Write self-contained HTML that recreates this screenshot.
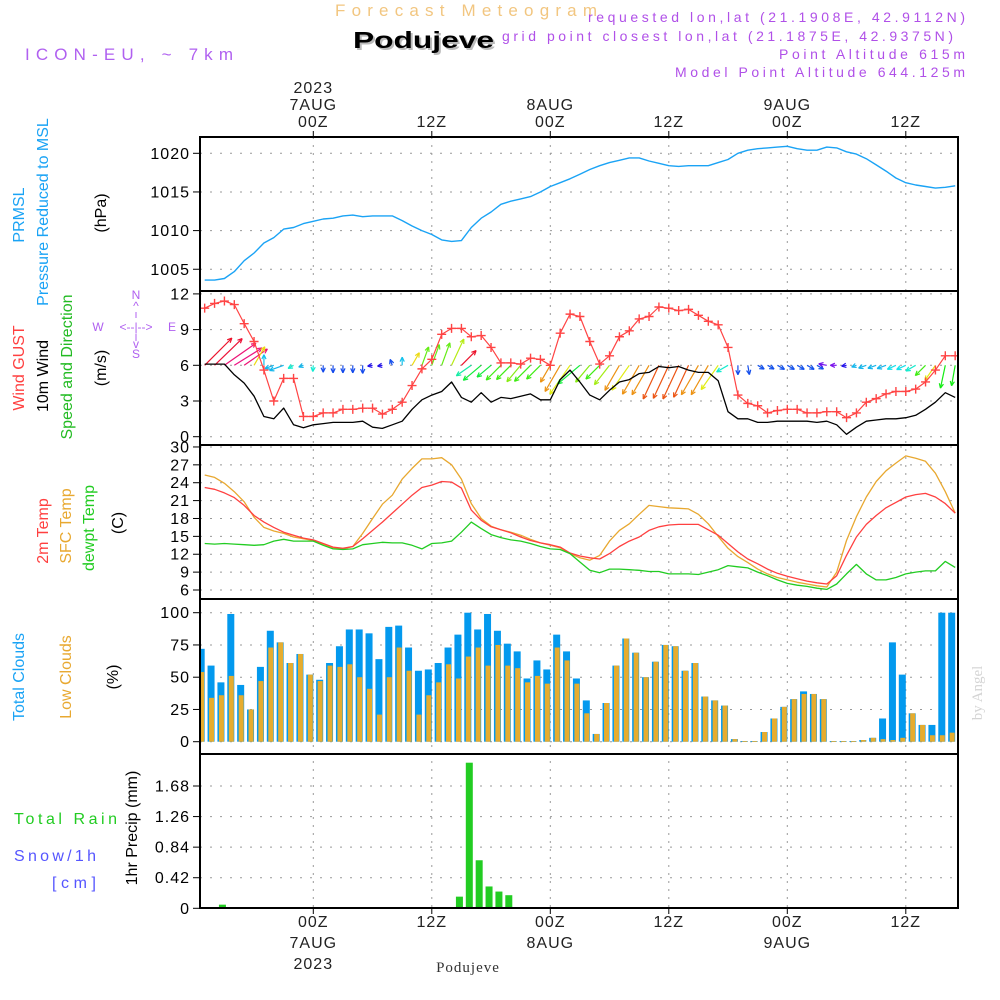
<!DOCTYPE html>
<html><head><meta charset="utf-8"><title>Podujeve Meteogram</title>
<style>
html,body{margin:0;padding:0;background:#fff;}
svg{display:block;font-family:"Liberation Sans",sans-serif;}
</style></head>
<body>
<svg id="chart" width="1000" height="1000" viewBox="0 0 1000 1000" xmlns="http://www.w3.org/2000/svg">
  <rect x="0" y="0" width="1000" height="1000" fill="#fff"/>
  <text x="335" y="16" font-size="17" fill="#f2c680" textLength="262" lengthAdjust="spacing">Forecast Meteogram</text>
  <text x="355" y="50" font-size="23" font-weight="bold" fill="#bbb" textLength="141" lengthAdjust="spacingAndGlyphs">Podujeve</text>
  <text x="353" y="48" font-size="23" font-weight="bold" fill="#000" textLength="141" lengthAdjust="spacingAndGlyphs">Podujeve</text>
  <text x="25" y="60" font-size="17" fill="#b060f0" textLength="208" lengthAdjust="spacing">ICON-EU, ~ 7km</text>
  <g fill="#b050e8" font-size="14" text-anchor="end">
    <text x="965" y="22" textLength="377" lengthAdjust="spacing">requested lon,lat (21.1908E, 42.9112N)</text>
    <text x="953" y="41" textLength="451" lengthAdjust="spacing">grid point closest lon,lat (21.1875E, 42.9375N)</text>
    <text x="965" y="59" textLength="186" lengthAdjust="spacing">Point Altitude 615m</text>
    <text x="965" y="77" textLength="290" lengthAdjust="spacing">Model Point Altitude 644.125m</text>
  </g>
  <g id="grid"></g>
  <g id="marks"></g>
  <g id="frames"></g>
  <g id="labels"></g>
</svg>
<script>
// ---- time axis (hours relative to 7AUG 00Z) ----
const hours = [];
for (let h = -11; h <= 65; h++) hours.push(h);

const pressure = [1003.6,1003.6,1003.8,1004.7,1006.1,1007.1,1008.4,1009.1,1010.2,1010.4,1010.9,
1011.2,1011.5,1011.6,1011.9,1012.0,1011.8,1011.9,1011.9,1011.9,1011.3,1010.6,
1010.0,1009.5,1008.8,1008.6,1008.7,1010.4,1011.6,1012.4,1013.4,1013.8,
1014.1,1014.4,1015.0,1015.7,1016.2,1016.7,1017.3,1017.9,1018.4,1018.8,
1019.1,1019.4,1019.4,1019.0,1018.7,1018.4,1018.3,1018.4,1018.4,1018.4,
1018.8,1019.2,1020.0,1020.4,1020.6,1020.7,1020.8,1020.9,1020.6,1020.4,
1020.4,1020.8,1020.7,1020.2,1019.9,1019.3,1018.5,1017.7,1016.8,1016.2,
1015.9,1015.7,1015.5,1015.6,1015.8];

const gust = [10.8,11.2,11.4,11.1,9.5,8.0,5.6,3.0,4.9,4.9,1.7,
1.7,2.0,2.0,2.3,2.3,2.4,2.4,1.9,2.3,2.9,4.3,
5.7,6.5,8.6,9.1,9.1,8.4,8.5,7.5,6.2,6.2,
6.1,6.6,6.5,6.0,8.7,10.3,10.1,8.0,6.1,6.8,
8.4,8.9,9.9,10.1,10.9,10.8,10.6,10.7,10.2,9.7,
9.4,7.5,3.5,2.8,2.6,2.0,2.2,2.3,2.3,2.0,
2.0,2.1,2.1,1.6,2.0,2.9,3.2,3.6,3.8,3.8,
4.0,4.6,5.6,6.8,6.8];

const windSpeed = [6.1,6.1,6.1,5.2,4.5,3.4,1.7,1.5,2.4,1.0,0.75,
1.0,1.1,1.2,1.2,1.2,1.3,0.8,0.7,1.0,1.3,2.3,
3.1,3.5,3.8,4.6,3.3,2.9,3.7,2.9,3.3,3.2,
3.4,3.6,3.1,3.1,4.8,5.6,4.6,3.5,3.1,3.9,
4.6,4.8,5.3,5.4,5.9,5.8,5.9,5.6,5.4,5.4,
4.7,2.1,1.5,1.5,1.2,1.2,1.3,1.3,1.3,1.3,
1.2,1.3,1.0,0.2,0.8,1.3,1.4,1.5,1.5,1.6,
1.8,2.3,2.9,3.7,3.3];

// direction the wind blows TOWARD, degrees counter-clockwise from east
const windToDir = [45,44,35,32,35,60,90,200,200,210,200,
265,270,270,270,270,270,190,190,110,90,60,
70,70,70,65,45,215,220,220,225,225,
230,225,225,240,240,235,220,230,225,232,
240,235,240,240,245,245,245,245,240,240,
235,210,270,280,330,330,330,330,330,330,
330,170,180,190,200,200,200,200,205,205,
210,225,235,258,260];

const temp2m = [23.2,22.9,22.3,21.5,20.2,18.5,17.4,16.5,15.7,15.2,14.7,
14.4,13.8,13.2,13.0,13.3,14.6,16.0,17.4,18.9,20.4,21.9,
23.2,23.6,24.2,24.1,23.1,19.4,17.7,16.6,16.1,15.6,
14.9,14.3,13.9,13.6,13.2,12.2,11.7,11.4,11.2,12.1,
13.3,14.2,14.9,16.0,16.6,16.9,17.0,17.0,17.0,16.1,
15.2,13.8,12.4,11.2,10.4,9.5,8.8,8.3,7.9,7.5,
7.2,7.0,8.4,11.8,14.9,17.0,18.5,19.8,20.7,21.6,
22.0,22.2,21.6,20.5,18.9];

const tempSfc = [25.3,24.9,23.9,22.5,20.8,18.2,16.5,15.9,15.5,14.9,14.6,
14.3,13.7,13.1,12.9,13.3,15.5,18.0,20.4,21.9,24.6,26.4,
28.0,28.0,28.2,27.0,24.6,20.5,18.0,16.7,16.1,15.7,
15.2,14.5,13.9,13.5,13.1,12.1,11.4,11.0,11.8,14.2,
16.0,17.1,18.7,20.2,20.0,19.8,19.7,19.6,18.7,17.1,
15.0,13.0,11.6,10.6,9.5,8.7,8.1,7.7,7.3,7.0,
6.7,6.5,9.0,14.3,18.3,21.6,24.2,26.0,27.3,28.5,
28.1,27.6,25.6,22.5,18.9];

const dewpoint = [13.8,13.7,13.8,13.7,13.6,13.5,13.6,14.2,14.5,14.2,14.2,
14.2,13.5,12.9,12.8,12.9,13.6,13.8,14.0,13.9,13.9,13.5,
12.9,13.8,13.9,14.2,15.7,17.4,16.3,15.3,14.8,14.4,
14.2,13.8,13.3,12.9,12.8,12.1,10.7,9.3,8.9,9.5,
9.5,9.4,9.3,9.1,9.1,8.7,8.7,8.7,8.6,9.0,
9.4,10.1,9.9,9.7,9.0,8.4,7.7,7.1,6.8,6.6,
6.3,6.1,7.0,8.7,10.3,8.7,7.7,7.7,8.1,8.7,
9.0,9.2,9.2,10.8,9.8];

const totalClouds = [72,59,46,99,44,25,58,86,77,61,68,
52,48,61,74,87,87,84,64,89,90,73,
55,56,61,73,83,100,87,99,86,76,
70,49,63,56,83,70,49,32,6,30,
59,80,69,50,62,75,74,55,61,35,
32,28,2,0.5,0.5,7.5,18,27,33,39,
37,33,0.5,0.5,0.5,1.3,3,18,77,52,
22,13,13,100,100];

const lowClouds = [54,34,36,51,36,25,47,73,77,61,68,
52,47,59,58,60,50,41,21,50,73,55,
21,36,46,60,49,66,73,59,75,59,
57,46,51,45,73,63,45,22,6,30,
59,80,69,50,62,75,74,55,61,35,
32,28,2,0.5,0.5,7.5,18,27,33,37,
37,33,0.5,0.5,0.5,1.3,3,2,1.3,3,
22,13,5,5,7];

const precip = [0,0,0.05,0,0,0,0,0,0,0,0,
0,0,0,0,0,0,0,0,0,0,0,
0,0,0,0,0.16,2.0,0.66,0.30,0.23,0.18,
0,0,0,0,0,0.01,0,0,0,0,
0,0,0,0,0,0,0,0,0,0,
0,0,0,0,0,0,0,0,0,0,
0,0,0,0,0,0,0,0,0,0,
0,0,0,0,0];

const pressureTicks = [1005,1010,1015,1020];
const windTicks = [0,3,6,9,12];
const tempTicks = [6,9,12,15,18,21,24,27,30];
const cloudTicks = [0,25,50,75,100];
const precipTicks = [0,0.42,0.84,1.26,1.68];
const timeTicks = [0,12,24,36,48,60];
const topTimeLabels = [["2023","7AUG","00Z"],["","","12Z"],["","8AUG","00Z"],["","","12Z"],["","9AUG","00Z"],["","","12Z"]];
const bottomTimeLabels = [["00Z","7AUG","2023"],["12Z","",""],["00Z","8AUG",""],["12Z","",""],["00Z","9AUG",""],["12Z","",""]];

// ---- scales ----
const L = 200, R = 958;
const X = h => 313.3 + 9.875 * h;
const yP = v => 153.3 + (1020 - v) * 7.73;
const yW = v => 436.7 - v * 11.9;
const yT = v => 590 - (v - 6) * 5.96;
const yC = v => 741.7 - v * 1.29;
const yR = v => 908.3 - v * 72.8;
const panels = [[137,291],[291,445],[445,599],[599,754],[754,908]];

const NS = "http://www.w3.org/2000/svg";
function mk(tag, attrs, parent) {
  const e = document.createElementNS(NS, tag);
  for (const k in attrs) e.setAttribute(k, attrs[k]);
  if (parent) parent.appendChild(e);
  return e;
}
const svg = document.getElementById('chart');
const gGrid = document.getElementById('grid');
const gMarks = document.getElementById('marks');
const gFrames = document.getElementById('frames');
const gLabels = document.getElementById('labels');

const defs = mk('defs', {}, svg);
panels.forEach((p, i) => {
  const cp = mk('clipPath', {id: 'clip' + i}, defs);
  mk('rect', {x: L, y: p[0], width: R - L, height: p[1] - p[0]}, cp);
});

function hgrid(ticks, yf, name) {
  ticks.forEach(t => {
    const ln = mk('line', {x1: L, x2: R, y1: yf(t), y2: yf(t), stroke: '#999', 'stroke-width': 1, 'stroke-dasharray': '2,8'}, gGrid);
    
    
  });
}
hgrid(pressureTicks, yP, 'pressure');
hgrid(windTicks, yW, 'wind');
hgrid(tempTicks, yT, 'temp');
hgrid(cloudTicks, yC, 'cloud');
hgrid(precipTicks, yR, 'precip');
timeTicks.forEach(t => {
  const ln = mk('line', {x1: X(t), x2: X(t), y1: 137, y2: 908, stroke: '#999', 'stroke-width': 1, 'stroke-dasharray': '2,6'}, gGrid);
  
  
});

function polyline(vals, yf, color, clip, name, w) {
  const pts = vals.map((v, i) => X(hours[i]).toFixed(1) + ',' + yf(v).toFixed(1)).join(' ');
  const pl = mk('polyline', {points: pts, fill: 'none', stroke: color, 'stroke-width': w || 1.3, 'clip-path': 'url(#clip' + clip + ')', 'stroke-linejoin': 'round'}, gMarks);
  
  
}

polyline(pressure, yP, '#1aa3f5', 0, 'pressure-line', 1.4);

function hsl2(h, s, l) { return 'hsl(' + h + ',' + s + '%,' + l + '%)'; }
const dirStops = [[0,225],[25,320],[40,340],[48,0],[55,35],[65,75],[75,120],[85,180],[100,215],[150,260],[185,270],[200,195],[215,160],[222,120],[232,80],[240,35],[250,0],[254,120],[262,120],[268,225],[275,225],[300,220],[360,225]];
function dirColor(a) {
  a = ((a % 360) + 360) % 360;
  for (let i = 0; i < dirStops.length - 1; i++) {
    const s0 = dirStops[i], s1 = dirStops[i + 1];
    if (a >= s0[0] && a <= s1[0]) {
      const f = (a - s0[0]) / (s1[0] - s0[0] || 1);
      let h0 = s0[1], h1 = s1[1];
      if (Math.abs(h1 - h0) > 180) { if (h1 > h0) h0 += 360; else h1 += 360; }
      return hsl2(((h0 + (h1 - h0) * f) % 360).toFixed(0), 85, 50);
    }
  }
  return '#2060ff';
}
const gArrows = mk('g', {'clip-path': 'url(#clip1)'}, gMarks);


windToDir.forEach((d, i) => {
  const x0 = X(hours[i]), y0 = yW(6);
  const len = Math.max(windSpeed[i] * 6.3, 5);
  const rad = d * Math.PI / 180;
  const x1 = x0 + len * Math.cos(rad), y1 = y0 - len * Math.sin(rad);
  const col = dirColor(d);
  const g = mk('g', {stroke: col, 'stroke-width': 1.2, fill: 'none'}, gArrows);
  
  
  mk('line', {x1: x0, y1: y0, x2: x1, y2: y1}, g);
  const hl = 5;
  [25, -25].forEach(o => {
    const r2 = (d + 180 + o) * Math.PI / 180;
    mk('line', {x1: x1, y1: y1, x2: x1 + hl * Math.cos(r2), y2: y1 - hl * Math.sin(r2)}, g);
  });
});

polyline(windSpeed, yW, '#000', 1, 'wind-speed-line', 1.3);
polyline(gust, yW, '#ff4444', 1, 'wind-gust-line', 1.2);
const gGust = mk('g', {stroke: '#ff4444', 'stroke-width': 1.4, 'clip-path': 'url(#clip1)'}, gMarks);


gust.forEach((v, i) => {
  const x = X(hours[i]), y = yW(v);
  const p = mk('path', {d: 'M' + (x - 4.5) + ' ' + y + 'h9M' + x + ' ' + (y - 4.5) + 'v9'}, gGust);
  
  
});

polyline(tempSfc, yT, '#e8a830', 2, 'sfc-temp-line', 1.3);
polyline(temp2m, yT, '#ff4040', 2, 'temp-2m-line', 1.3);
polyline(dewpoint, yT, '#22cc22', 2, 'dewpoint-line', 1.3);

const gClouds = mk('g', {'clip-path': 'url(#clip3)'}, gMarks);


totalClouds.forEach((v, i) => {
  const x = X(hours[i]);
  const b = mk('rect', {x: x - 7, y: yC(v), width: 7, height: Math.max(yC(0) - yC(v), 0.8), fill: '#0399ee'}, gClouds);
  
  
  const lv = lowClouds[i];
  const o = mk('rect', {x: x - 5.5, y: yC(lv), width: 5, height: Math.max(yC(0) - yC(lv), 0.8), fill: '#e6ac2e'}, gClouds);
  
  
});

const gPrecip = mk('g', {'clip-path': 'url(#clip4)'}, gMarks);


precip.forEach((v, i) => {
  if (v <= 0) return;
  const x = X(hours[i]);
  const b = mk('rect', {x: x - 5.5, y: yR(v), width: 7, height: Math.max(yR(0) - yR(v), 1), fill: '#22cc22'}, gPrecip);
  
  
});
const zl = mk('line', {x1: L, x2: R, y1: yR(0) - 0.5, y2: yR(0) - 0.5, stroke: '#2a2', 'stroke-width': 1, 'stroke-dasharray': '8,2'}, gMarks);



panels.forEach((p, i) => {
  const r = mk('rect', {x: L, y: p[0], width: R - L, height: p[1] - p[0], fill: 'none', stroke: '#000', 'stroke-width': 2}, gFrames);
  
  
});
timeTicks.forEach(t => {
  mk('line', {x1: X(t), x2: X(t), y1: 131, y2: 137, stroke: '#000', 'stroke-width': 1}, gFrames);
  mk('line', {x1: X(t), x2: X(t), y1: 908, y2: 914, stroke: '#000', 'stroke-width': 1}, gFrames);
});

function yLabels(ticks, yf, name, fmt) {
  ticks.forEach(t => {
    const y = yf(t);
    mk('line', {x1: 193, x2: 200, y1: y, y2: y, stroke: '#000', 'stroke-width': 1}, gLabels);
    const tx = mk('text', {x: 190, y: y + 5.5, 'font-size': 16, 'text-anchor': 'end', fill: '#000', 'letter-spacing': 1}, gLabels);
    tx.textContent = fmt ? fmt(t) : String(t);
    
    
  });
}
yLabels(pressureTicks, yP, 'pressure');
yLabels(windTicks, yW, 'wind');
yLabels(tempTicks, yT, 'temp');
yLabels(cloudTicks, yC, 'cloud');
yLabels(precipTicks, yR, 'precip', t => t === 0 ? '0' : t.toFixed(2));

timeTicks.forEach((t, i) => {
  const rows = topTimeLabels[i];
  [93, 110, 127].forEach((yy, j) => {
    if (!rows[j]) return;
    const tx = mk('text', {x: X(t), y: yy, 'font-size': 16, 'text-anchor': 'middle', fill: '#222', 'letter-spacing': 1}, gLabels);
    tx.textContent = rows[j];
    
    
  });
  const b = bottomTimeLabels[i];
  [927, 948, 969].forEach((yy, j) => {
    if (!b[j]) return;
    const tx = mk('text', {x: X(t), y: yy, 'font-size': 16, 'text-anchor': 'middle', fill: '#222', 'letter-spacing': 1}, gLabels);
    tx.textContent = b[j];
    
    
  });
});
</script>

<svg style="position:absolute;left:0;top:0" width="1000" height="1000" viewBox="0 0 1000 1000" font-family="Liberation Sans, sans-serif">
  <g font-size="16" text-anchor="middle">
    <text transform="translate(24,215) rotate(-90)" fill="#1aa3f5">PRMSL</text>
    <text transform="translate(48,212) rotate(-90)" fill="#1aa3f5">Pressure Reduced to MSL</text>
    <text transform="translate(106,213) rotate(-90)" fill="#000">(hPa)</text>
    <text transform="translate(24,368) rotate(-90)"><tspan fill="#ff4040">Wind GUST</tspan></text>
    <text transform="translate(48,376) rotate(-90)" fill="#000">10m Wind</text>
    <text transform="translate(72,367) rotate(-90)" fill="#22bb22">Speed and Direction</text>
    <text transform="translate(106,368) rotate(-90)" fill="#000">(m/s)</text>
    <text transform="translate(48,531) rotate(-90)" fill="#ff4040">2m Temp</text>
    <text transform="translate(71,526) rotate(-90)" fill="#e8a830">SFC Temp</text>
    <text transform="translate(94,528) rotate(-90)" fill="#22cc22">dewpt Temp</text>
    <text transform="translate(123,523) rotate(-90)" fill="#000">(C)</text>
    <text transform="translate(24,677) rotate(-90)" fill="#1aa3f5">Total Clouds</text>
    <text transform="translate(71,677) rotate(-90)" fill="#e8a830">Low Clouds</text>
    <text transform="translate(118,677) rotate(-90)" fill="#000">(%)</text>
    <text transform="translate(137,828) rotate(-90)" fill="#000">1hr Precip (mm)</text>
  </g>
  <text x="14" y="824" font-size="16" fill="#22cc22" textLength="103" lengthAdjust="spacing">Total   Rain</text>
  <text x="14" y="861" font-size="16" fill="#5555ff" textLength="82" lengthAdjust="spacing">Snow/1h</text>
  <text x="52" y="888" font-size="16" fill="#5555ff" textLength="44" lengthAdjust="spacing">[cm]</text>
  <g fill="#b060f0" font-size="12" text-anchor="middle">
    <text x="136" y="299">N</text>
    <text x="136" y="310">^</text>
    <line x1="136" y1="312" x2="136" y2="318" stroke="#b060f0"/>
    <text x="98" y="331">W</text>
    <text x="136" y="331">&lt;--|--&gt;</text>
    <text x="172" y="331">E</text>
    <line x1="136" y1="334" x2="136" y2="341" stroke="#b060f0"/>
    <text x="136" y="348">v</text>
    <text x="136" y="358">S</text>
  </g>
  <text transform="translate(982,693) rotate(-90)" font-family="Liberation Serif, serif" font-size="15" fill="#d4d4d4" text-anchor="middle">by Angel</text>
  <text x="468" y="972" font-family="Liberation Serif, serif" font-size="15" fill="#333" text-anchor="middle" letter-spacing="1">Podujeve</text>
</svg>
</body></html>
